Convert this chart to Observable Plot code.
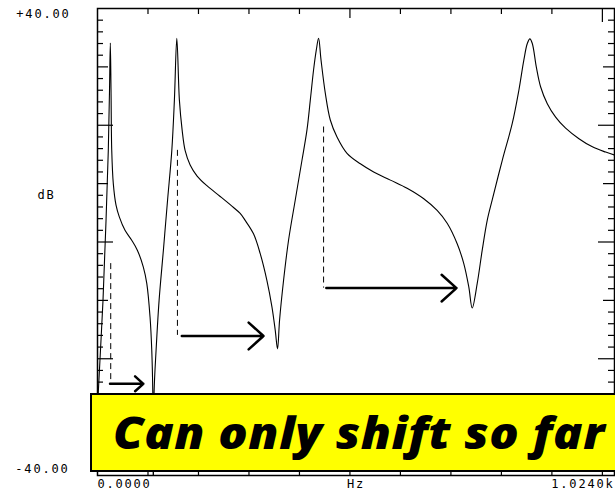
<!DOCTYPE html>
<html>
<head>
<meta charset="utf-8">
<script src="https://cdn.jsdelivr.net/npm/d3@7"></script>
<script src="https://cdn.jsdelivr.net/npm/@observablehq/plot@0.6"></script>
<style>
  html, body { margin: 0; padding: 0; background: #fff; overflow: hidden; }
  #wrap { position: relative; width: 615px; height: 495px; overflow: hidden; }
  #wrap svg text { letter-spacing: 1.8px; }
  #note {
    position: absolute; left: 90px; top: 393px; width: 560px; height: 79px;
    box-sizing: border-box; border: 2px solid #000; background: #ffff00;
    font-family: "Open Sans", "DejaVu Sans", sans-serif; font-weight: 800; font-style: italic;
    font-size: 45px; line-height: 73px; padding-left: 21px; color: #000; white-space: nowrap;
  }
  #note span { display: inline-block; transform-origin: 0 50%; letter-spacing: 0.5px; }
</style>
</head>
<body>
<div id="wrap"></div>
<script>
// Frequency response (Hz, dB)
const freqHz = [0, 1.6, 10.9, 16.9, 21.4, 23.8, 25.4, 26.8, 28.2, 31.3, 36.7, 43.2, 54.5, 67.8, 78.9, 90.8, 97.6, 104.1, 107.5, 109.5, 110.5, 112.1, 116, 122, 130.5, 138.8, 147.2, 152.3, 157.1, 162.2, 167.6, 173.5, 183.5, 197.3, 217.2, 243, 266.8, 282.6, 292.5, 309, 322.3, 335.6, 345.5, 352, 356.6, 360.6, 368.5, 378.4, 391.7, 405, 414.9, 421.5, 428, 433.4, 437.9, 442.7, 451.2, 461.1, 474.4, 494.2, 520.6, 547, 580.1, 613.2, 646.2, 672.7, 692.6, 712.4, 725.5, 735.4, 742.2, 752.1, 762, 771.9, 781.8, 801.7, 821.5, 834.6, 844.5, 851.3, 856.4, 861.2, 869.1, 877.6, 890.9, 907.4, 927.2, 953.6, 980.2, 1006.5, 1024];
const levelDb = [-30, -25.7, -10.0, 3.7, 15.7, 26.0, 34.1, 26.0, 15.7, 10.0, 6.3, 4.3, 2.0, 0.3, -1.4, -4.3, -7.1, -12.9, -18.6, -25.7, -45, -25.7, -18.6, -10.0, -1.4, 7.2, 15.7, 24.3, 34.9, 24.3, 19.2, 15.7, 13.2, 11.3, 9.6, 7.8, 6.1, 4.9, 3.7, 1.4, -2.0, -6.6, -11.1, -15.1, -18.3, -13.4, -6.6, 0.3, 7.2, 14.0, 19.2, 24.3, 29.5, 32.9, 34.9, 31.2, 25.5, 20.9, 18.0, 15.2, 13.4, 12.0, 10.6, 9.2, 7.4, 5.4, 3.2, -0.3, -3.7, -7.7, -11.3, -7.1, -1.4, 3.7, 7.2, 14.0, 20.3, 26.0, 31.2, 34.0, 34.8, 34.0, 30.0, 26.6, 23.7, 21.4, 19.5, 17.7, 16.3, 15.4, 14.9];

// Dashed markers (Hz, dB top, dB bottom)
const dashHz = [26.2, 158.3, 447.8];
const dashTopDb = [-3.7, 15.7, 19.7];
const dashBottomDb = [-24.3, -16.0, -7.9];

// Arrows (from Hz, to Hz, dB)
const arrowFromHz = [24.8, 167, 453.2];
const arrowToHz = [90.8, 328.8, 711];
const arrowDb = [-24.3, -16.1, -7.9];

// Axis ticks
const yMinorTicks = [-38,-36,-34,-32,-28,-26,-24,-22,-18,-16,-14,-12,-8,-6,-4,-2,2,4,6,8,12,14,16,18,22,24,26,28,32,34,36,38];
const yMidTicks = [-30, -10, 10, 30];
const yMajorTicks = [-20, 0, 20];
const xMinorTicks = [100, 200, 300, 400, 600, 700, 800, 900];
const xMidTicks = [500];
const xMajorTicks = [1000];

// Labels
const yTopLabel = [{v: 40, t: "+40.00"}];
const yBottomLabel = [{v: -40, t: "-40.00"}];
const yUnitLabel = [{v: 8, t: "dB"}];
const xStartLabel = [{v: 0, t: "0.0000"}];
const xEndLabel = [{v: 1024, t: "1.0240k"}];
const xUnitLabel = [{v: 512, t: "Hz"}];
const noteText = "Can only shift so far";

const curve = freqHz.map((f, i) => ({f, db: levelDb[i]}));
const dashes = dashHz.map((x, i) => ({x, y1: dashTopDb[i], y2: dashBottomDb[i]}));
const arrows = arrowFromHz.map((x1, i) => ({x1, x2: arrowToHz[i], y: arrowDb[i]}));

const blank = () => "";
const tickStyle = {stroke: "#000", strokeWidth: 1.2, tickFormat: blank, label: null};

const chart = Plot.plot({
  width: 615,
  height: 495,
  marginLeft: 97,
  marginRight: 1,
  marginTop: 8,
  marginBottom: 20,
  x: {domain: [0, 1024]},
  y: {domain: [-40, 40]},
  style: {fontFamily: "'DejaVu Sans Mono', monospace", fontSize: "12px", color: "#000", background: "#fff"},
  marks: [
    Plot.axisY({anchor: "left", ticks: yMinorTicks, tickSize: -6, ...tickStyle}),
    Plot.axisY({anchor: "left", ticks: yMidTicks, tickSize: -11, ...tickStyle}),
    Plot.axisY({anchor: "left", ticks: yMajorTicks, tickSize: -16, ...tickStyle}),
    Plot.axisY({anchor: "right", ticks: yMinorTicks, tickSize: -7, ...tickStyle}),
    Plot.axisY({anchor: "right", ticks: yMidTicks, tickSize: -12, ...tickStyle}),
    Plot.axisY({anchor: "right", ticks: yMajorTicks, tickSize: -17, ...tickStyle}),
    Plot.axisX({anchor: "top", ticks: xMinorTicks, tickSize: -5, ...tickStyle}),
    Plot.axisX({anchor: "top", ticks: xMidTicks, tickSize: -9, ...tickStyle}),
    Plot.axisX({anchor: "top", ticks: xMajorTicks, tickSize: -13, ...tickStyle}),
    Plot.axisX({anchor: "bottom", ticks: xMinorTicks, tickSize: -5, ...tickStyle}),
    Plot.axisX({anchor: "bottom", ticks: xMidTicks, tickSize: -9, ...tickStyle}),
    Plot.axisX({anchor: "bottom", ticks: xMajorTicks, tickSize: -13, ...tickStyle}),
    Plot.frame({stroke: "#000", strokeWidth: 1.5}),
    Plot.line(curve, {x: "f", y: "db", stroke: "#000", strokeWidth: 1.1, curve: "catmull-rom", clip: true}),
    Plot.ruleX(dashes, {x: "x", y1: "y1", y2: "y2", stroke: "#000", strokeWidth: 1, strokeDasharray: "6,4"}),
    Plot.arrow(arrows, {x1: "x1", x2: "x2", y1: "y", y2: "y", stroke: "#000", strokeWidth: 2.5, headLength: 12, headAngle: 84}),
    Plot.text(yTopLabel, {y: "v", text: "t", frameAnchor: "left", textAnchor: "end", dx: -27, lineAnchor: "top", dy: 1}),
    Plot.text(yBottomLabel, {y: "v", text: "t", frameAnchor: "left", textAnchor: "end", dx: -28, lineAnchor: "bottom", dy: -3}),
    Plot.text(yUnitLabel, {y: "v", text: "t", frameAnchor: "left", textAnchor: "middle", dx: -51}),
    Plot.text(xStartLabel, {x: "v", text: "t", frameAnchor: "bottom", textAnchor: "start", dy: 12}),
    Plot.text(xEndLabel, {x: "v", text: "t", frameAnchor: "bottom", textAnchor: "end", dy: 12}),
    Plot.text(xUnitLabel, {x: "v", text: "t", frameAnchor: "bottom", textAnchor: "middle", dy: 12})
  ]
});

const wrap = document.getElementById("wrap");
wrap.appendChild(chart);
const note = document.createElement("div");
note.id = "note";
const span = document.createElement("span");
span.textContent = noteText;
note.appendChild(span);
wrap.appendChild(note);
// stretch the annotation glyphs horizontally to the reference's width
const targetWidth = 492;
const natural = span.getBoundingClientRect().width;
span.style.transform = "scaleX(" + (targetWidth / natural) + ")";
</script>
</body>
</html>
